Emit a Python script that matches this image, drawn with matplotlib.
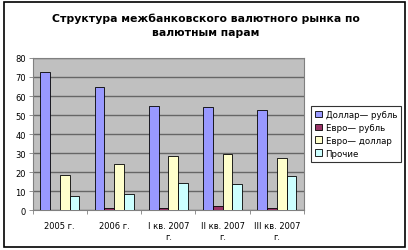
import matplotlib
matplotlib.use("Agg")
import matplotlib.pyplot as plt
import numpy as np

plt.rcParams['font.family'] = ['DejaVu Sans']

categories = ["2005 г.", "2006 г.", "I кв. 2007\nг.", "II кв. 2007\nг.", "III кв. 2007\nг."]
series_names = ["Доллар— рубль", "Евро— рубль", "Евро— доллар", "Прочие"]
dollar_rub = [72.5, 65.0, 55.0, 54.0, 52.5]
euro_rub = [0.3, 1.2, 1.2, 2.2, 1.2]
euro_usd = [18.5, 24.0, 28.5, 29.5, 27.5]
other = [7.5, 8.5, 14.5, 13.5, 18.0]
colors = ["#9999FF", "#993366", "#FFFFCC", "#CCFFFF"]
y_ticks = [0, 10, 20, 30, 40, 50, 60, 70, 80]

fig = plt.figure(figsize=(4.08, 2.51), dpi=100)
fig.patch.set_facecolor("white")
# outer chart border
fig.add_artist(plt.Rectangle((0.010, 0.012), 0.982, 0.976, transform=fig.transFigure,
                             fill=False, edgecolor="black", linewidth=1.2))

ax = fig.add_axes([0.080, 0.159, 0.665, 0.606])
ax.set_facecolor("#C0C0C0")

x = np.arange(len(categories))
bw = 0.18
for i, (vals, name) in enumerate(zip([dollar_rub, euro_rub, euro_usd, other], series_names)):
    ax.bar(x + (i - 1.5) * bw, vals, bw, color=colors[i], edgecolor="black",
           linewidth=0.6, label=name, zorder=3)

ax.set_xlim(-0.5, len(categories) - 0.5)
ax.set_ylim(0, 80)
ax.set_yticks(y_ticks)
ax.yaxis.grid(True, color="#666666", linewidth=1.0, zorder=1)
ax.set_xticks(x)
ax.set_xticklabels(categories, fontsize=6)
ax.set_xticks(np.arange(len(categories) + 1) - 0.5, minor=True)
ax.tick_params(axis="x", which="major", length=0, pad=8)
ax.tick_params(axis="x", which="minor", length=3, width=0.6, color="#808080")
ax.tick_params(axis="y", labelsize=6, length=3, width=0.6, color="#808080", pad=2)
for s in ax.spines.values():
    s.set_color("#808080")
    s.set_linewidth(0.8)

fig.text(0.505, 0.898, "Структура межбанковского валютного рынка по\nвалютным парам",
         ha="center", va="center", fontsize=7.8, fontweight="semibold", linespacing=1.45)

leg = fig.legend(loc="upper left", bbox_to_anchor=(0.762, 0.575), fontsize=6.2,
                 frameon=True, fancybox=False, edgecolor="black", handlelength=0.8,
                 handleheight=0.8, handletextpad=0.4, borderpad=0.5, labelspacing=0.45,
                 borderaxespad=0)
leg.get_frame().set_linewidth(0.8)

fig.savefig("out.png", dpi=100)
